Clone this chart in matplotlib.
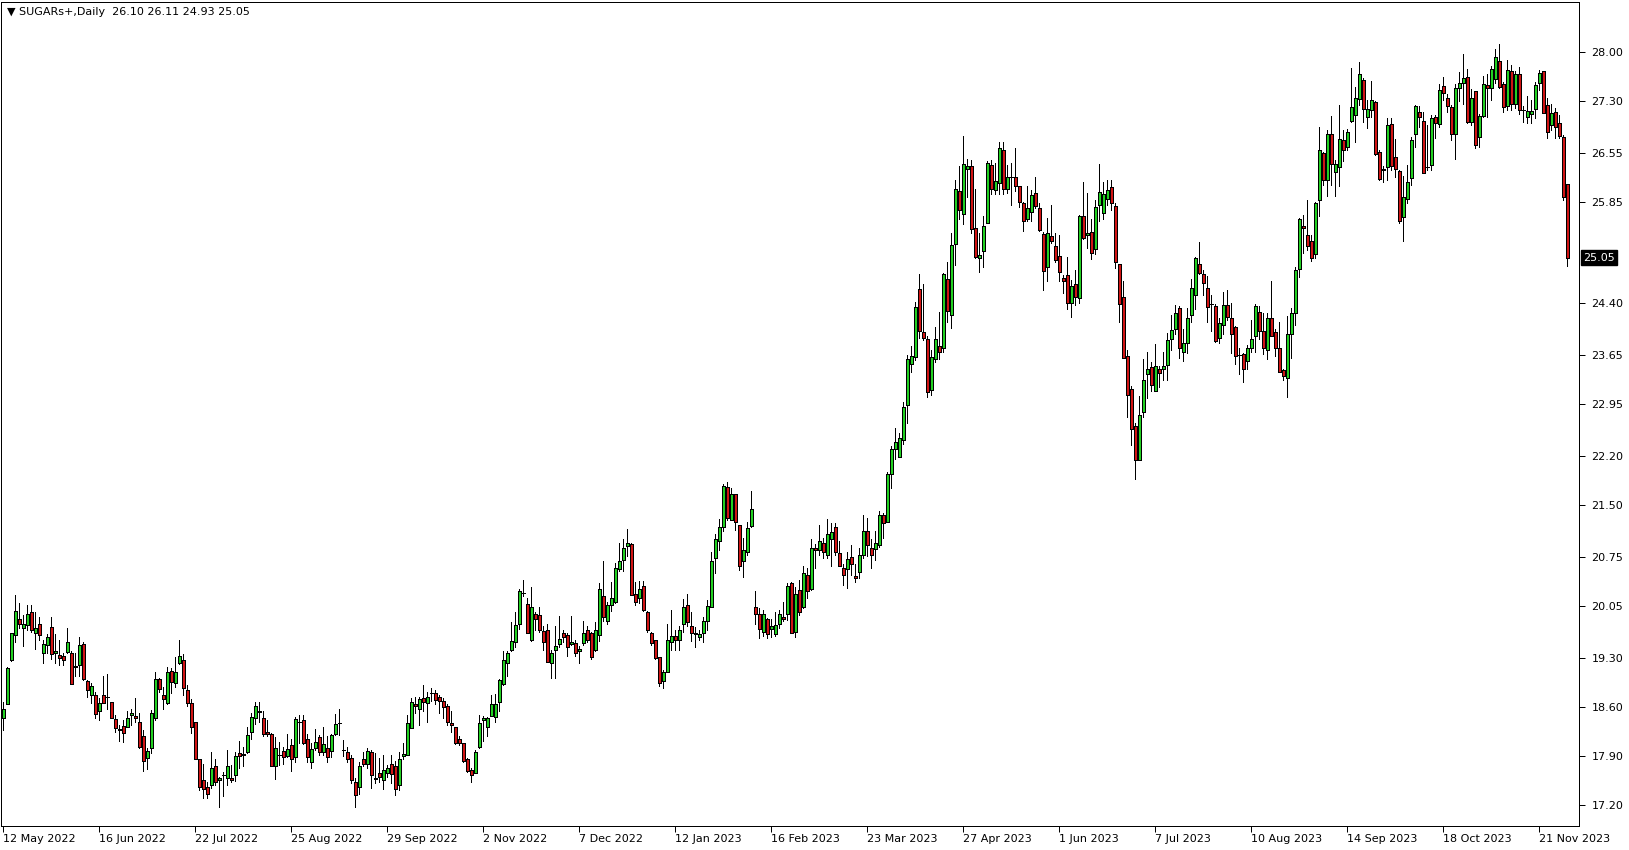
import matplotlib
matplotlib.use('Agg')
import matplotlib.pyplot as plt
from matplotlib.patches import Rectangle
from matplotlib.transforms import blended_transform_factory

# ---- 数据 (SUGARs+ 日线, 从图上读取) ----
open_ = [
    18.44, 18.64, 19.27, 19.64, 19.87, 19.73, 19.78, 19.96, 19.66, 19.80,
    19.37, 19.49, 19.75, 19.37, 19.35, 19.33, 19.39, 19.37, 19.19, 19.20,
    19.50, 18.97, 18.78, 18.78, 18.54, 18.78, 18.75, 18.67, 18.43, 18.29,
    18.33, 18.32, 18.49, 18.47, 18.39, 18.19, 17.87, 18.02, 18.45, 19.00,
    18.77, 18.66, 19.12, 18.94, 19.24, 19.28, 18.85, 18.66, 18.38, 17.85,
    17.55, 17.45, 17.49, 17.75, 17.55, 17.62, 17.59, 17.59, 17.62, 17.94,
    17.93, 17.95, 18.24, 18.45, 18.55, 18.44, 18.24, 18.22, 17.75, 17.91,
    17.97, 17.90, 18.06, 17.88, 18.38, 18.42, 18.15, 17.82, 18.02, 18.17,
    17.95, 18.02, 17.97, 18.21, 18.37, 17.98, 17.96, 17.87, 17.53, 17.45,
    17.86, 17.78, 17.95, 17.59, 17.66, 17.56, 17.66, 17.78, 17.76, 17.49,
    17.90, 17.92, 18.30, 18.64, 18.58, 18.73, 18.66, 18.80, 18.80, 18.74,
    18.69, 18.62, 18.37, 18.32, 18.14, 18.08, 17.85, 17.70, 17.65, 18.03,
    18.41, 18.31, 18.48, 18.46, 18.67, 18.93, 19.23, 19.42, 19.53, 19.80,
    20.24, 20.08, 19.57, 19.94, 19.92, 19.69, 19.71, 19.23, 19.42, 19.50,
    19.66, 19.63, 19.50, 19.52, 19.40, 19.52, 19.71, 19.66, 19.42, 19.63,
    20.20, 19.84, 20.06, 20.11, 20.58, 20.71, 20.91, 20.94, 20.23, 20.16,
    20.34, 19.97, 19.67, 19.56, 19.32, 18.98, 19.11, 19.53, 19.62, 19.57,
    19.80, 20.07, 19.77, 19.67, 19.60, 19.67, 19.83, 20.03, 20.74, 20.98,
    21.18, 21.76, 21.28, 21.66, 21.21, 20.69, 20.82, 21.20, 20.04, 19.94,
    19.68, 19.86, 19.72, 19.65, 19.79, 19.90, 19.94, 20.38, 19.68, 20.28,
    20.04, 20.50, 20.29, 20.89, 20.85, 20.95, 20.79, 21.01, 21.19, 20.81,
    20.60, 20.58, 20.75, 20.48, 20.54, 20.79, 21.13, 20.89, 20.87, 20.92,
    21.35, 21.26, 21.94, 22.31, 22.19, 22.44, 22.94, 23.53, 23.63, 24.60,
    23.98, 23.88, 23.15, 23.60, 23.78, 23.75, 24.75, 24.22, 25.24, 26.00,
    25.67, 26.32, 26.36, 25.47, 25.04, 25.14, 25.55, 26.38, 26.02, 26.12,
    26.59, 26.04, 26.21, 26.20, 26.07, 25.84, 25.61, 25.70, 25.97, 25.76,
    25.39, 24.92, 25.36, 25.22, 25.07, 24.76, 24.80, 24.40, 24.67, 24.47,
    25.64, 25.37, 25.42, 25.17, 25.80, 25.69, 25.89, 26.06, 25.79, 24.96,
    24.49, 23.64, 23.17, 22.63, 22.15, 22.83, 23.38, 23.48, 23.14, 23.45,
    23.45, 23.51, 23.88, 24.02, 24.33, 23.69, 23.83, 24.22, 24.52, 24.96,
    24.81, 24.61, 24.38, 24.36, 23.89, 24.08, 24.37, 24.18, 24.06, 23.65,
    23.67, 23.56, 23.75, 23.93, 24.27, 24.00, 23.73, 24.18, 23.98, 23.75,
    23.44, 23.32, 23.95, 24.25, 24.88, 25.50, 25.38, 25.29, 25.10, 25.88,
    26.55, 26.16, 26.83, 26.28, 26.35, 26.74, 26.64, 27.01, 27.10, 27.32,
    27.60, 27.07, 27.17, 27.28, 26.56, 26.32, 26.35, 26.97, 26.50, 26.29,
    25.63, 25.89, 26.19, 26.82, 27.14, 27.01, 26.35, 26.38, 27.06, 26.97,
    27.51, 27.34, 27.21, 26.82, 27.49, 27.56, 27.64, 27.00, 27.44, 26.78,
    27.08, 27.53, 27.48, 27.61, 27.87, 27.54, 27.22, 27.73, 27.26, 27.68,
    27.17, 27.06, 27.11, 27.18, 27.56, 27.73, 27.24, 26.95, 27.14, 26.98,
    26.78, 26.10,
]
high = [
    18.68, 19.17, 19.67, 20.21, 20.09, 19.92, 20.07, 20.07, 19.96, 19.89,
    19.57, 19.65, 19.89, 19.65, 19.56, 19.37, 19.73, 19.40, 19.37, 19.60,
    19.53, 18.99, 18.94, 18.82, 18.73, 19.04, 19.07, 18.67, 18.49, 18.35,
    18.42, 18.55, 18.57, 18.73, 18.51, 18.27, 18.02, 18.56, 19.11, 19.02,
    18.89, 19.17, 19.16, 19.32, 19.56, 19.36, 18.92, 18.72, 18.38, 17.85,
    17.78, 17.52, 17.95, 17.85, 17.60, 17.67, 17.99, 17.77, 17.95, 18.11,
    18.03, 18.32, 18.51, 18.68, 18.68, 18.54, 18.41, 18.23, 18.17, 18.10,
    18.03, 18.22, 18.15, 18.46, 18.49, 18.49, 18.22, 18.08, 18.29, 18.20,
    18.32, 18.18, 18.22, 18.50, 18.58, 18.13, 18.03, 17.91, 17.58, 17.82,
    17.96, 18.02, 17.99, 17.94, 17.87, 17.91, 17.77, 17.91, 17.83, 17.96,
    18.08, 18.49, 18.73, 18.75, 18.74, 18.92, 18.82, 18.88, 18.85, 18.77,
    18.73, 18.64, 18.54, 18.32, 18.18, 18.09, 17.87, 17.72, 17.99, 18.49,
    18.48, 18.46, 18.78, 18.79, 19.01, 19.41, 19.40, 19.82, 19.96, 20.29,
    20.43, 20.16, 20.33, 19.97, 20.03, 19.76, 19.80, 19.42, 19.76, 19.91,
    19.71, 19.66, 19.91, 19.56, 19.48, 19.83, 19.76, 19.68, 19.82, 20.38,
    20.70, 20.11, 20.39, 20.67, 20.95, 21.01, 21.16, 20.95, 20.40, 20.41,
    20.41, 19.98, 19.68, 19.56, 19.32, 19.13, 19.80, 20.00, 19.70, 19.76,
    20.15, 20.22, 19.97, 19.75, 19.70, 19.90, 20.14, 20.83, 21.08, 21.30,
    21.80, 21.83, 21.74, 21.66, 21.21, 21.02, 21.26, 21.70, 20.26, 20.02,
    20.00, 19.88, 19.86, 19.97, 19.99, 20.11, 20.38, 20.40, 20.33, 20.42,
    20.63, 20.59, 21.01, 20.94, 21.21, 21.02, 21.30, 21.24, 21.24, 20.98,
    20.66, 20.82, 20.93, 20.65, 20.88, 21.35, 21.31, 21.01, 21.13, 21.41,
    21.38, 21.98, 22.34, 22.60, 22.53, 22.98, 23.65, 23.78, 24.42, 24.81,
    24.67, 23.92, 23.72, 24.06, 24.27, 24.83, 24.99, 25.40, 26.16, 26.36,
    26.80, 26.47, 26.45, 26.04, 25.40, 25.64, 26.43, 26.45, 26.40, 26.71,
    26.71, 26.38, 26.40, 26.62, 26.07, 25.85, 26.07, 26.02, 26.20, 25.83,
    25.42, 25.62, 25.81, 25.40, 25.37, 24.80, 25.06, 24.73, 24.87, 25.66,
    26.13, 25.98, 25.60, 25.87, 26.39, 26.13, 26.16, 26.16, 25.83, 24.96,
    24.71, 23.72, 23.21, 22.67, 23.06, 23.59, 23.70, 23.55, 23.81, 23.49,
    23.69, 23.97, 24.22, 24.37, 24.35, 24.02, 24.33, 24.75, 25.06, 25.28,
    24.87, 24.79, 24.51, 24.38, 24.18, 24.55, 24.58, 24.40, 24.07, 23.75,
    23.68, 23.80, 24.15, 24.39, 24.35, 24.26, 24.26, 24.72, 24.02, 24.13,
    23.45, 24.21, 24.32, 24.91, 25.62, 25.66, 25.88, 25.37, 25.85, 26.92,
    26.57, 26.88, 27.08, 26.45, 27.24, 26.88, 26.90, 27.77, 27.50, 27.85,
    27.62, 27.31, 27.58, 27.29, 26.59, 26.36, 27.05, 27.05, 26.75, 26.31,
    26.22, 26.38, 26.78, 27.24, 27.22, 27.14, 26.95, 27.10, 27.10, 27.54,
    27.64, 27.40, 27.24, 27.54, 27.71, 27.97, 27.75, 27.47, 27.44, 27.11,
    27.66, 27.69, 27.80, 28.04, 28.11, 27.57, 27.88, 27.82, 27.73, 27.78,
    27.23, 27.37, 27.31, 27.57, 27.74, 27.73, 27.34, 27.25, 27.20, 27.10,
    26.81, 26.11,
]
low = [
    18.27, 18.64, 19.26, 19.53, 19.73, 19.48, 19.71, 19.68, 19.43, 19.56,
    19.24, 19.37, 19.29, 19.23, 19.20, 19.21, 19.37, 18.93, 19.05, 19.04,
    18.99, 18.74, 18.66, 18.44, 18.42, 18.66, 18.58, 18.44, 18.25, 18.12,
    18.10, 18.31, 18.35, 18.38, 18.01, 17.69, 17.71, 17.94, 18.42, 18.82,
    18.58, 18.65, 18.80, 18.89, 19.22, 18.77, 18.61, 18.23, 17.85, 17.41,
    17.30, 17.30, 17.44, 17.48, 17.17, 17.33, 17.48, 17.53, 17.54, 17.72,
    17.75, 17.94, 18.15, 18.36, 18.39, 18.18, 18.18, 17.75, 17.57, 17.77,
    17.78, 17.88, 17.69, 17.82, 18.09, 18.07, 17.82, 17.72, 17.99, 17.91,
    17.91, 17.82, 17.88, 18.20, 18.20, 17.90, 17.82, 17.51, 17.17, 17.36,
    17.76, 17.72, 17.44, 17.51, 17.53, 17.42, 17.60, 17.51, 17.34, 17.41,
    17.86, 17.91, 18.30, 18.51, 18.34, 18.54, 18.39, 18.69, 18.65, 18.51,
    18.44, 18.34, 18.25, 18.07, 18.06, 17.82, 17.67, 17.53, 17.65, 18.01,
    18.11, 18.18, 18.48, 18.39, 18.55, 18.92, 19.05, 19.41, 19.47, 19.72,
    20.19, 19.66, 19.55, 19.71, 19.68, 19.42, 19.25, 19.02, 19.02, 19.47,
    19.53, 19.33, 19.49, 19.34, 19.24, 19.49, 19.54, 19.29, 19.41, 19.55,
    19.83, 19.80, 19.98, 20.10, 20.55, 20.55, 20.77, 20.21, 20.06, 20.09,
    19.98, 19.68, 19.49, 19.29, 18.91, 18.88, 19.10, 19.42, 19.42, 19.42,
    19.68, 19.76, 19.55, 19.47, 19.56, 19.53, 19.70, 20.03, 20.52, 20.85,
    21.13, 21.29, 21.28, 21.14, 20.57, 20.47, 20.78, 21.18, 19.80, 19.59,
    19.62, 19.59, 19.60, 19.62, 19.73, 19.83, 19.85, 19.66, 19.61, 19.92,
    20.02, 20.17, 20.28, 20.60, 20.78, 20.74, 20.74, 20.62, 20.78, 20.62,
    20.35, 20.31, 20.50, 20.39, 20.46, 20.74, 20.77, 20.60, 20.71, 20.90,
    21.02, 21.26, 21.75, 22.16, 22.19, 22.37, 22.68, 23.41, 23.58, 23.89,
    23.87, 23.05, 23.08, 23.55, 23.60, 23.70, 24.13, 24.04, 24.94, 25.61,
    25.53, 25.92, 25.40, 25.04, 24.85, 24.92, 25.55, 25.96, 25.96, 25.96,
    25.96, 25.97, 25.80, 26.01, 25.78, 25.43, 25.57, 25.57, 25.76, 25.43,
    24.59, 24.71, 25.26, 24.99, 24.72, 24.54, 24.31, 24.20, 24.37, 24.40,
    25.31, 25.19, 25.03, 25.10, 25.58, 25.60, 25.80, 25.73, 24.90, 24.13,
    23.61, 22.77, 22.36, 21.87, 22.15, 22.77, 23.03, 23.14, 23.13, 23.20,
    23.29, 23.29, 23.72, 23.96, 23.61, 23.56, 23.68, 24.12, 24.31, 24.81,
    24.51, 24.12, 23.99, 23.84, 23.82, 23.96, 24.15, 23.68, 23.53, 23.38,
    23.26, 23.45, 23.69, 23.69, 23.88, 23.67, 23.59, 23.93, 23.64, 23.41,
    23.29, 23.05, 23.61, 24.08, 24.77, 25.11, 25.16, 25.00, 25.04, 25.65,
    26.09, 25.93, 26.09, 25.93, 26.07, 26.43, 26.59, 27.00, 26.71, 27.24,
    27.00, 26.91, 27.07, 26.52, 26.16, 26.14, 26.16, 26.30, 26.21, 25.55,
    25.29, 25.84, 26.09, 26.64, 26.93, 26.27, 26.31, 26.31, 26.77, 26.93,
    27.31, 27.14, 26.74, 26.46, 27.29, 27.25, 26.98, 26.95, 26.62, 26.64,
    27.07, 27.07, 27.31, 27.56, 27.49, 27.14, 27.17, 27.17, 27.20, 27.11,
    26.99, 26.98, 26.98, 27.05, 27.46, 27.13, 26.77, 26.88, 26.77, 26.77,
    25.87, 24.93,
]
close = [
    18.58, 19.16, 19.66, 19.98, 19.80, 19.79, 19.93, 19.70, 19.73, 19.64,
    19.50, 19.60, 19.36, 19.41, 19.30, 19.27, 19.53, 18.93, 19.17, 19.49,
    19.01, 18.84, 18.90, 18.50, 18.66, 18.66, 18.74, 18.44, 18.30, 18.27,
    18.23, 18.44, 18.51, 18.45, 18.03, 17.83, 17.97, 18.51, 19.01, 18.86,
    18.71, 19.10, 18.96, 19.10, 19.33, 18.87, 18.66, 18.31, 17.85, 17.45,
    17.42, 17.35, 17.72, 17.53, 17.59, 17.62, 17.76, 17.55, 17.90, 17.90,
    17.91, 18.20, 18.46, 18.62, 18.53, 18.22, 18.21, 17.76, 18.01, 17.91,
    17.89, 18.00, 17.85, 18.43, 18.38, 18.09, 17.88, 18.00, 18.10, 17.95,
    18.07, 17.88, 18.20, 18.36, 18.37, 17.98, 17.85, 17.55, 17.34, 17.76,
    17.79, 17.97, 17.62, 17.57, 17.60, 17.70, 17.73, 17.64, 17.42, 17.85,
    17.93, 18.37, 18.67, 18.61, 18.71, 18.67, 18.74, 18.80, 18.70, 18.69,
    18.60, 18.39, 18.35, 18.09, 18.08, 17.83, 17.69, 17.63, 17.95, 18.37,
    18.45, 18.45, 18.64, 18.64, 18.99, 19.28, 19.37, 19.55, 19.78, 20.27,
    20.24, 19.67, 20.03, 19.86, 19.70, 19.53, 19.25, 19.37, 19.48, 19.58,
    19.60, 19.46, 19.54, 19.37, 19.44, 19.67, 19.57, 19.32, 19.71, 20.30,
    19.90, 20.07, 20.16, 20.60, 20.70, 20.88, 20.96, 20.21, 20.11, 20.30,
    19.99, 19.70, 19.52, 19.30, 18.94, 19.10, 19.56, 19.62, 19.57, 19.71,
    20.04, 19.82, 19.66, 19.65, 19.65, 19.84, 20.05, 20.70, 21.01, 21.18,
    21.78, 21.32, 21.66, 21.25, 20.63, 20.86, 21.17, 21.44, 19.93, 19.72,
    19.94, 19.65, 19.76, 19.78, 19.94, 19.86, 20.34, 19.66, 20.22, 19.97,
    20.52, 20.27, 20.89, 20.85, 20.99, 20.83, 21.09, 21.11, 20.82, 20.63,
    20.49, 20.72, 20.65, 20.46, 20.78, 21.13, 20.93, 20.79, 20.95, 21.35,
    21.24, 21.94, 22.31, 22.41, 22.46, 22.90, 23.60, 23.64, 24.34, 23.99,
    23.89, 23.12, 23.62, 23.88, 23.70, 24.82, 24.29, 25.23, 26.04, 25.73,
    26.39, 26.36, 25.46, 25.06, 25.09, 25.50, 26.40, 26.03, 26.15, 26.62,
    26.04, 26.20, 26.21, 26.08, 25.85, 25.57, 25.76, 25.95, 25.79, 25.45,
    24.86, 25.40, 25.29, 25.02, 24.85, 24.72, 24.40, 24.64, 24.49, 25.64,
    25.33, 25.40, 25.11, 25.77, 25.99, 25.96, 26.02, 25.83, 24.99, 24.38,
    23.61, 23.08, 22.59, 22.15, 22.79, 23.29, 23.45, 23.22, 23.49, 23.39,
    23.49, 23.87, 24.01, 24.26, 23.75, 23.83, 24.18, 24.62, 25.04, 24.83,
    24.68, 24.34, 24.38, 23.86, 24.11, 24.37, 24.20, 23.96, 23.64, 23.65,
    23.45, 23.75, 23.88, 24.35, 23.99, 23.75, 24.18, 23.93, 23.76, 23.41,
    23.35, 23.95, 24.25, 24.87, 25.60, 25.47, 25.22, 25.05, 25.83, 26.59,
    26.16, 26.82, 26.39, 26.39, 26.75, 26.59, 26.85, 27.21, 27.34, 27.68,
    27.18, 27.18, 27.31, 26.53, 26.18, 26.30, 26.95, 26.36, 26.32, 25.57,
    25.92, 26.14, 26.73, 27.22, 27.07, 26.27, 26.35, 27.05, 26.98, 27.46,
    27.41, 27.23, 26.82, 27.48, 27.55, 27.62, 27.00, 27.34, 26.67, 27.08,
    27.54, 27.49, 27.75, 27.93, 27.50, 27.21, 27.74, 27.26, 27.69, 27.17,
    27.17, 27.16, 27.16, 27.53, 27.70, 27.13, 26.85, 27.12, 26.92, 26.80,
    25.92, 25.05,
]

# ---- 坐标轴标签 ----
date_labels = ['12 May 2022', '16 Jun 2022', '22 Jul 2022', '25 Aug 2022', '29 Sep 2022',
               '2 Nov 2022', '7 Dec 2022', '12 Jan 2023', '16 Feb 2023', '23 Mar 2023',
               '27 Apr 2023', '1 Jun 2023', '7 Jul 2023', '10 Aug 2023', '14 Sep 2023',
               '18 Oct 2023', '21 Nov 2023']
date_step = 24  # 每24根K线一个日期标签
price_ticks = [17.20, 17.90, 18.60, 19.30, 20.05, 20.75, 21.50, 22.20, 22.95,
               23.65, 24.40, 25.85, 26.55, 27.30, 28.00]
symbol = 'SUGARs+,Daily'

# ---- 创建图层 ----
W, H = 1629, 850
fig = plt.figure(figsize=(W / 100, H / 100), dpi=100)
ax = fig.add_axes([1 / W, 24 / H, 1578 / W, 824 / H])

up_color = '#22d022'
down_color = '#d01414'
body_w = 0.6
px = 72 / 100  # 1像素对应的线宽

# ---- 绘制K线 ----
for i in range(len(close)):
    o, h, l, c = open_[i], high[i], low[i], close[i]
    ax.vlines(i, l, h, color='black', linewidth=px, antialiased=False, zorder=2)
    if abs(c - o) < 0.005:
        ax.hlines(o, i - 0.45, i + 0.45, color='black', linewidth=px, antialiased=False, zorder=3)
        continue
    fc = up_color if c > o else down_color
    ax.add_patch(Rectangle((i - body_w / 2, min(o, c)), body_w, abs(c - o),
                           facecolor=fc, edgecolor='black', linewidth=px,
                           antialiased=False, zorder=3))

# ---- 坐标轴设置 ----
ax.set_xlim(-0.575, 393.9)
ax.set_ylim(16.895, 28.717)
ax.yaxis.tick_right()
ax.set_yticks(price_ticks)
ax.set_yticklabels(['%.2f' % p for p in price_ticks])
ax.set_xticks([k * date_step for k in range(len(date_labels))])
ax.set_xticklabels(date_labels)
for t in ax.get_xticklabels():
    t.set_horizontalalignment('left')
ax.tick_params(axis='both', labelsize=8, length=4, width=px, color='black', pad=2)
ax.tick_params(axis='y', pad=5)
for sp in ax.spines.values():
    sp.set_linewidth(px)
    sp.set_color('black')

# ---- 当前价格 ----
last = close[-1]
trans = blended_transform_factory(ax.transAxes, ax.transData)
ax.text(1.0025, last, '%.2f' % last, transform=trans, color='white', fontsize=8,
        va='center', ha='left',
        bbox=dict(boxstyle='square,pad=0.2', facecolor='black', edgecolor='black'))

# ---- 标题 ----
fig.text(7 / W, 1 - 12 / H, '\u25BC %s  %.2f %.2f %.2f %.2f' % (symbol, open_[-1], high[-1], low[-1], close[-1]),
         fontsize=8, va='center', ha='left')

fig.savefig('out.png', dpi=100)
plt.close()
